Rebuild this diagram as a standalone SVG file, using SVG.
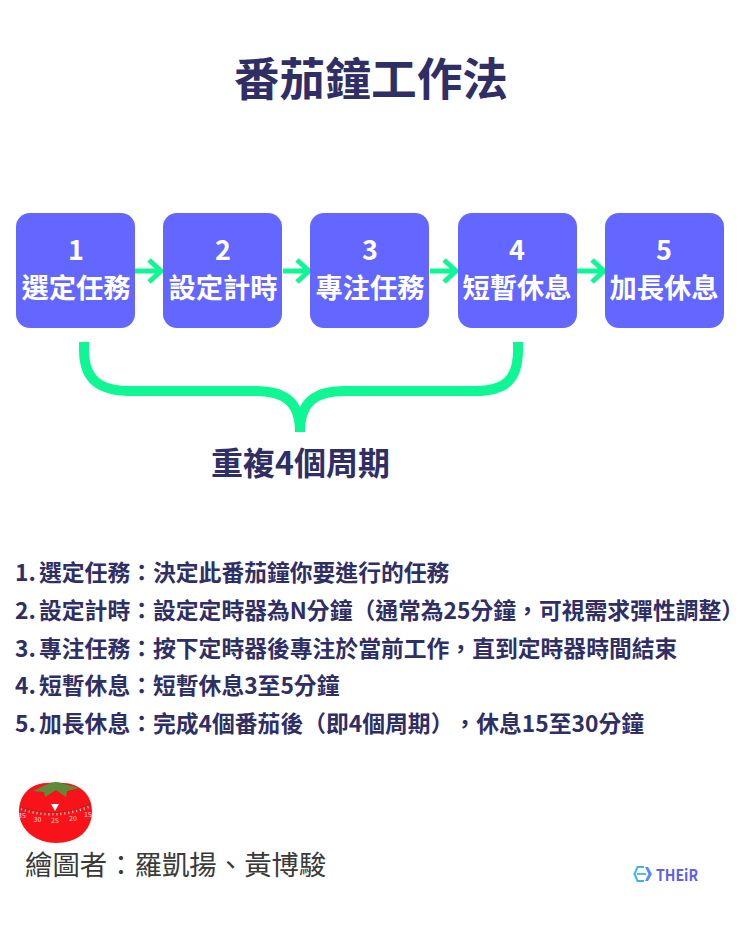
<svg xmlns="http://www.w3.org/2000/svg" width="740" height="925" viewBox="0 0 740 925">
<style>
text{font-family:"Noto Sans CJK TC","Noto Sans",sans-serif;font-feature-settings:"chws" 0;text-spacing-trim:space-all}
.box{fill:#6366ff}
.n{fill:#fff;font-size:27px;font-weight:700;text-anchor:middle}
.l{fill:#fff;font-size:27.3px;font-weight:700;text-anchor:middle}
.li{fill:#2f2f66;font-size:22.8px;font-weight:700}
.ar{fill:none;stroke:#0ff794;stroke-width:5}
</style>
<rect width="740" height="925" fill="#fff"/>
<text x="371" y="96" text-anchor="middle" font-size="45.7" font-weight="700" fill="#2f2f66">番茄鐘工作法</text>
<g id="connectors">
<path class="ar" d="M135 271H160M149 260L161 271L149 282"/>
<path class="ar" d="M283 271H308M297 260L309 271L297 282"/>
<path class="ar" d="M430 271H455M444 260L456 271L444 282"/>
<path class="ar" d="M577 271H603M592 260L604 271L592 282"/>
<path d="M84 342V350C84 380 100 391 130 391H255C285 391 300 402 300 432C300 402 315 391 345 391H475C505 391 518 380 518 350V342" fill="none" stroke="#0ff794" stroke-width="10"/>
</g>
<g id="n1"><rect class="box" x="16" y="213" width="119" height="115" rx="14"/><text class="n" x="76" y="260">1</text><text class="l" x="76" y="298">選定任務</text></g>
<g id="n2"><rect class="box" x="163" y="213" width="119" height="115" rx="14"/><text class="n" x="223" y="260">2</text><text class="l" x="223" y="298">設定計時</text></g>
<g id="n3"><rect class="box" x="310" y="213" width="119" height="115" rx="14"/><text class="n" x="370" y="260">3</text><text class="l" x="370" y="298">專注任務</text></g>
<g id="n4"><rect class="box" x="458" y="213" width="119" height="115" rx="14"/><text class="n" x="517" y="260">4</text><text class="l" x="517" y="298">短暫休息</text></g>
<g id="n5"><rect class="box" x="605" y="213" width="119" height="115" rx="14"/><text class="n" x="664" y="260">5</text><text class="l" x="664" y="298">加長休息</text></g>
<text x="300.500" y="475" text-anchor="middle" font-size="32" font-weight="700" fill="#2f2f66">重複4個周期</text>
<text class="li" x="15" y="581">1.<tspan x="39">選定任務：決定此番茄鐘你要進行的任務</tspan></text>
<text class="li" x="15" y="618.500">2.<tspan x="39">設定計時：設定定時器為N分鐘（通常為25分鐘，可視需求彈性調整</tspan><tspan style="font-feature-settings:'halt'">）</tspan></text>
<text class="li" x="15" y="656.500">3.<tspan x="39">專注任務：按下定時器後專注於當前工作，直到定時器時間結束</tspan></text>
<text class="li" x="15" y="693.500">4.<tspan x="39">短暫休息：短暫休息3至5分鐘</tspan></text>
<text class="li" x="15" y="731.500">5.<tspan x="39">加長休息：完成4個番茄後（即4個周期），休息15至30分鐘</tspan></text>
<g id="tomato">
<path d="M55 783C30 781 19 795 19 812C20 832 38 843 56 843C76 843 92 832 92 811C92 795 80 781 55 783Z" fill="#f8131a"/>
<path d="M33 791Q45 785 48 784Q55 780 64 784L80 788L67 791L66 797L56 790L45 797L44 792Z" fill="#5f8a3a"/>
<path d="M20 807Q55 820 91 804" fill="none" stroke="#a8281a" stroke-width="1"/>
<path d="M21 809Q55 821 91 806" fill="none" stroke="#ffd0d0" stroke-width="2.500" stroke-dasharray="1 3"/>
<path d="M51 804H59L55 811Z" fill="#fff"/>
<g fill="#ffdcdc" font-size="7" text-anchor="middle" font-family="Liberation Sans,sans-serif"><text x="22" y="818">35</text><text x="37.500" y="822">30</text><text x="55" y="823">25</text><text x="73" y="821">20</text><text x="88" y="817">15</text></g>
</g>
<text x="25" y="875" font-size="27.4" fill="#3a3a3a">繪圖者：羅凱揚、黃博駿</text>
<g id="logo">
<path d="M644 867H637.500L634.500 874L637.500 881H644" fill="none" stroke="#3fb4f5" stroke-width="2"/>
<path d="M645 867H648L652 874L648 881H645L648.500 874Z" fill="#4f8ff7"/>
<path d="M637 874H646" stroke="#3fb4f5" stroke-width="1.800"/>
<text x="656" y="880.500" font-size="16" font-weight="700" fill="#5f5fe8" textLength="42" lengthAdjust="spacingAndGlyphs" font-family="Roboto,sans-serif">THEiR</text>
</g>
</svg>
